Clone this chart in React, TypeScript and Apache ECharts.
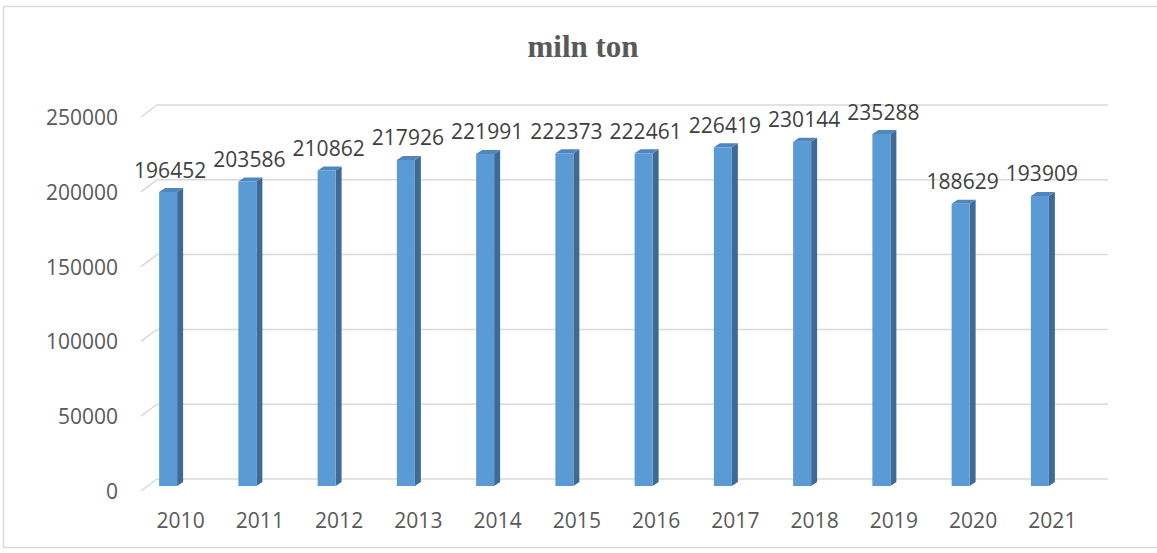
import React, { useEffect, useRef } from "react";
import * as echarts from "echarts";

const TITLE = "miln ton";
const years = ["2010", "2011", "2012", "2013", "2014", "2015", "2016", "2017", "2018", "2019", "2020", "2021"];
const values = [196452, 203586, 210862, 217926, 221991, 222373, 222461, 226419, 230144, 235288, 188629, 193909];
const yTicks = [0, 50000, 100000, 150000, 200000, 250000];

const LABEL_FONT = '"Open Sans", "Liberation Sans", Arial, sans-serif';

export default function App() {
  const ref = useRef<HTMLDivElement>(null);
  useEffect(() => {
    if (!ref.current) return;
    const chart = echarts.init(ref.current, null, { renderer: "svg" });
    const DX = 16, DY = -12;
    chart.setOption({
      animation: false,
      backgroundColor: "#ffffff",
      grid: { left: 141, right: 65, top: 117, bottom: 62 },
      xAxis: {
        type: "category",
        data: years,
        axisLine: { show: false },
        axisTick: { show: false },
        axisLabel: {
          color: "#595959",
          fontSize: 21,
          fontFamily: LABEL_FONT,
          margin: 18,
        },
      },
      yAxis: {
        type: "value",
        min: 0,
        max: 250000,
        interval: 50000,
        axisLine: { show: false },
        axisTick: { show: false },
        splitLine: { show: false },
        axisLabel: {
          color: "#595959",
          fontSize: 21,
          fontFamily: LABEL_FONT,
          margin: 23,
          formatter: (v: number) => String(v),
        },
      },
      graphic: [
        {
          type: "rect",
          shape: { x: 3.5, y: 6.5, width: 1160, height: 541 },
          style: { fill: "none", stroke: "#D9D9D9", lineWidth: 1.5 },
          silent: true,
          z: -10,
        },
        {
          type: "text",
          x: 583,
          y: 46,
          style: {
            text: TITLE,
            textAlign: "center",
            textVerticalAlign: "middle",
            fill: "#595959",
            font: 'bold 31px "Liberation Serif", "Times New Roman", serif',
          },
        },
      ],
      series: [
        {
          type: "custom",
          silent: true,
          z: 1,
          data: yTicks.map((v) => [0, v]),
          renderItem: (params: any, api: any) => {
            const cs = params.coordSys;
            const p = api.coord([0, api.value(1)]);
            const y = p[1];
            return {
              type: "polyline",
              shape: {
                points: [
                  [cs.x, y],
                  [cs.x + DX, y + DY],
                  [cs.x + cs.width + DX, y + DY],
                ],
              },
              style: { stroke: "#D9D9D9", lineWidth: 1.5, fill: "none" },
            };
          },
        },
        {
          type: "custom",
          z: 2,
          data: values.map((v, i) => [i, v]),
          renderItem: (params: any, api: any) => {
            const i = api.value(0);
            const v = api.value(1);
            const top = api.coord([i, v]);
            const bot = api.coord([i, 0]);
            const x0 = top[0] - 21.5;
            const x1 = x0 + 18;
            const yt = top[1] - 5;
            const yb = bot[1] - 5;
            const dx = 6, dy = -4;
            return {
              type: "group",
              children: [
                {
                  type: "polygon",
                  shape: { points: [[x1, yt], [x1 + dx, yt + dy], [x1 + dx, yb + dy], [x1, yb]] },
                  style: { fill: "#3D6B95" },
                },
                {
                  type: "polygon",
                  shape: { points: [[x0, yt], [x0 + dx, yt + dy], [x1 + dx, yt + dy], [x1, yt]] },
                  style: { fill: "#4F86BC" },
                },
                {
                  type: "rect",
                  shape: { x: x0, y: yt, width: x1 - x0, height: yb - yt },
                  style: { fill: "#5B9BD5" },
                },
                {
                  type: "text",
                  x: x0 + 11,
                  y: yt + dy - 8,
                  style: {
                    text: String(v),
                    textAlign: "center",
                    textVerticalAlign: "bottom",
                    fill: "#404040",
                    font: "21px " + LABEL_FONT,
                  },
                },
              ],
            };
          },
        },
      ],
    });
    return () => chart.dispose();
  }, []);
  return (
    <div
      ref={ref}
      style={{ position: "fixed", left: 0, top: 0, width: 1157, height: 553 }}
    />
  );
}
